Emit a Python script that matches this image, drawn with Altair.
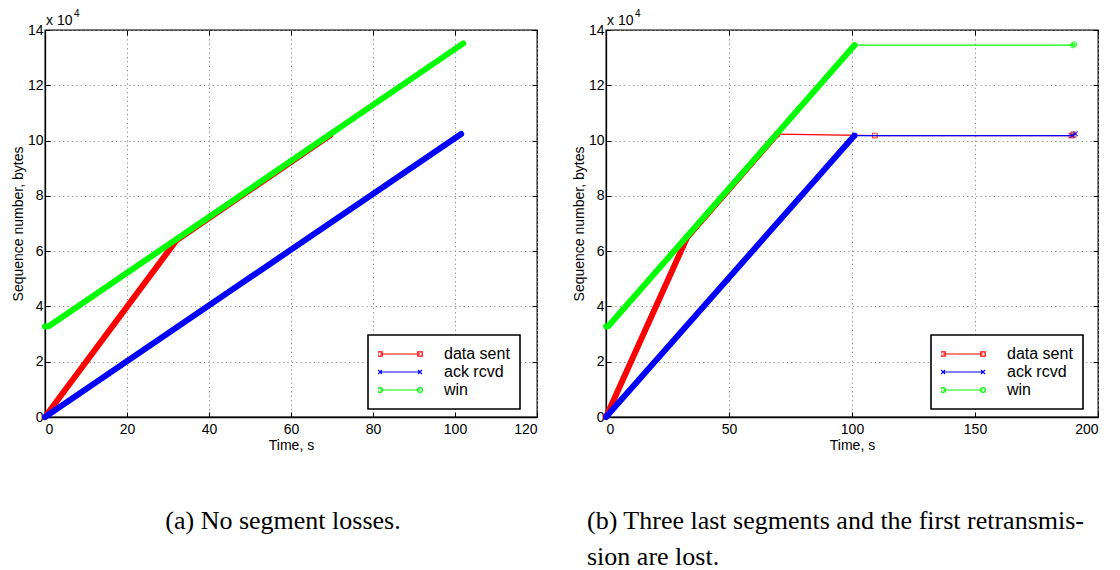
import altair as alt
import pandas as pd

SERIES = ["data sent", "ack rcvd", "win"]
COLORS = ["#ff0000", "#0000ff", "#00ff00"]

# ---- (a) no segment losses: bulk transfer, every trace is a dense run of points
a_sent_t = [0, 32, 69.6]
a_sent_seq = [0, 63800, 102000]
a_ack_t = [0, 101.5]
a_ack_seq = [0, 102400]
a_win_t = [0, 1, 102]
a_win_seq = [32768, 32900, 135168]

# ---- (b) last three segments and first retransmission lost
b_sent_t = [0, 33, 69.5]
b_sent_seq = [0, 65000, 102300]
b_sent_tail_t = [69.5, 109.3, 189.2, 190.1]
b_sent_tail_seq = [102300, 101800, 101800, 102200]
b_ack_t = [0, 101]
b_ack_seq = [0, 101800]
b_ack_tail_t = [101, 189.5, 190.8]
b_ack_tail_seq = [101800, 101800, 102500]
b_win_t = [0, 1, 101]
b_win_seq = [32768, 32900, 134500]
b_win_tail_t = [101, 189.8, 190.4]
b_win_tail_seq = [134500, 134500, 134900]

y_ticks = [0, 20000, 40000, 60000, 80000, 100000, 120000, 140000]
a_x_ticks = [0, 20, 40, 60, 80, 100, 120]
b_x_ticks = [0, 50, 100, 150, 200]

caption_a = "(a) No segment losses."
caption_b = ["(b) Three last segments and the first retransmis-", "sion are lost."]

# legend samples: a short line with a marker at each end
LEGEND_SHAPES = [
    "M-1,0L1,0M-1.11,-0.11L-0.89,-0.11L-0.89,0.11L-1.11,0.11ZM0.89,-0.11L1.11,-0.11L1.11,0.11L0.89,0.11Z",
    "M-1,0L1,0M-1.1,-0.1L-0.9,0.1M-1.1,0.1L-0.9,-0.1M0.9,-0.1L1.1,0.1M0.9,0.1L1.1,-0.1",
    "M-1,0L1,0M-0.88,0A0.12,0.12 0 1 1 -1.12,0A0.12,0.12 0 1 1 -0.88,0"
    "M1.12,0A0.12,0.12 0 1 1 0.88,0A0.12,0.12 0 1 1 1.12,0",
]
MARKERS = ["square", "M-1,-1L1,1M-1,1L1,-1", "circle"]

SANS = "Liberation Sans"
SERIF = "Liberation Serif"
W, H = 492, 387


def frame(t, seq):
    return pd.DataFrame({"t": t, "seq": seq})


def panel(traces, tails, x_ticks, x_max, legend_x, caption, cap_anchor, cap_dx):
    xs = alt.Scale(domain=[0, x_max], nice=False, zero=False)
    ys = alt.Scale(domain=[0, 140000], nice=False)

    def X(axis):
        return alt.X("t:Q", scale=xs, axis=axis)

    def Y(axis):
        return alt.Y("seq:Q", scale=ys, axis=axis)

    main_x = alt.Axis(orient="bottom", values=x_ticks, title="Time, s", grid=True,
                      ticks=False, domain=True, labelPadding=5, titlePadding=2, format="d")
    main_y = alt.Axis(orient="left", values=y_ticks, title="Sequence number, bytes",
                      grid=True, ticks=False, domain=True, labelPadding=2, titlePadding=2,
                      labelExpr="datum.value / 10000")

    def inward(orient, vals):
        return alt.Axis(orient=orient, values=vals, labels=False, ticks=True, tickSize=5,
                        domain=False, grid=False, offset=-5, title=None)

    axes = [
        (main_x, main_y),
        (inward("top", x_ticks), inward("right", y_ticks)),
        (inward("bottom", x_ticks), inward("left", y_ticks)),
    ]

    layers = []
    # thick (dense) runs, in plotting order sent, ack, win
    for i, (t, seq) in enumerate(traces):
        ax, ay = axes[i]
        layers.append(
            alt.Chart(frame(t, seq)).mark_line(
                color=COLORS[i], strokeWidth=6, strokeCap="round", strokeJoin="round"
            ).encode(x=X(ax), y=Y(ay), order="t:Q")
        )
        if tails[i] is not None:
            tt, ts = tails[i]
            layers.append(
                alt.Chart(frame(tt, ts)).mark_line(
                    color=COLORS[i], strokeWidth=1.3
                ).encode(x=X(None), y=Y(None), order="t:Q")
            )
            layers.append(
                alt.Chart(frame(tt, ts)).mark_point(
                    color=COLORS[i], shape=MARKERS[i], size=22, filled=False, strokeWidth=1.2
                ).encode(x=X(None), y=Y(None))
            )

    # legend carrier (invisible points, legend only)
    leg = pd.DataFrame({"series": SERIES, "t": [0, 0, 0], "seq": [0, 0, 0]})
    layers.append(
        alt.Chart(leg).mark_point(filled=False, opacity=0).encode(
            x=X(None), y=Y(None),
            color=alt.Color("series:N", scale=alt.Scale(domain=SERIES, range=COLORS),
                            legend=alt.Legend(
                                title=None, orient="none", legendX=legend_x, legendY=305,
                                symbolSize=1600, symbolStrokeWidth=1.2, symbolOffset=1,
                                labelFontSize=16, labelFont=SANS, labelColor="black",
                                labelOffset=23, clipHeight=18, rowPadding=0, padding=10,
                                fillColor="white", strokeColor="black", symbolOpacity=1)),
            shape=alt.Shape("series:N", scale=alt.Scale(domain=SERIES, range=LEGEND_SHAPES)),
        )
    )

    # exponent note above the y axis
    exp_df = pd.DataFrame({"base": ["x 10"], "power": ["4"]})
    layers.append(
        alt.Chart(exp_df).mark_text(align="left", baseline="alphabetic", fontSize=14,
                                    font=SANS, color="black").encode(
            x=alt.value(1), y=alt.value(-5), text="base:N")
    )
    layers.append(
        alt.Chart(exp_df).mark_text(align="left", baseline="alphabetic", fontSize=10,
                                    font=SANS, color="black").encode(
            x=alt.value(29), y=alt.value(-13), text="power:N")
    )

    return alt.layer(*layers).resolve_axis(x="independent", y="independent").properties(
        width=W, height=H,
        title=alt.TitleParams(text=caption, orient="bottom", anchor=cap_anchor, dx=cap_dx,
                              font=SERIF, fontSize=26, fontWeight="normal", color="black",
                              offset=56, lineHeight=36, frame="group"),
    )


left = panel(
    [(a_sent_t, a_sent_seq), (a_ack_t, a_ack_seq), (a_win_t, a_win_seq)],
    [None, None, None], a_x_ticks, 120, 323, caption_a, "middle", -8,
)
right = panel(
    [(b_sent_t, b_sent_seq), (b_ack_t, b_ack_seq), (b_win_t, b_win_seq)],
    [(b_sent_tail_t, b_sent_tail_seq), (b_ack_tail_t, b_ack_tail_seq),
     (b_win_tail_t, b_win_tail_seq)],
    b_x_ticks, 200, 325, caption_b, "start", -19,
)

chart = alt.hconcat(left, right, spacing=32).resolve_scale(
    color="independent", shape="independent"
).resolve_legend(
    color="independent", shape="independent"
).configure(
    padding={"left": 10, "top": 8, "right": 2, "bottom": 0},
    background="white",
).configure_view(
    stroke="black", strokeWidth=1.3
).configure_axis(
    labelFont=SANS, titleFont=SANS, labelFontSize=14, titleFontSize=14,
    titleFontWeight="normal", labelColor="black", titleColor="black",
    domainColor="black", domainWidth=1.3, tickColor="black", tickWidth=1,
    gridColor="#8a8a8a", gridDash=[1.2, 3.2], gridWidth=1, gridOpacity=1,
).configure_legend(strokeWidth=1.6)

chart.save("out.html", embed_options={"renderer": "svg", "actions": False})
